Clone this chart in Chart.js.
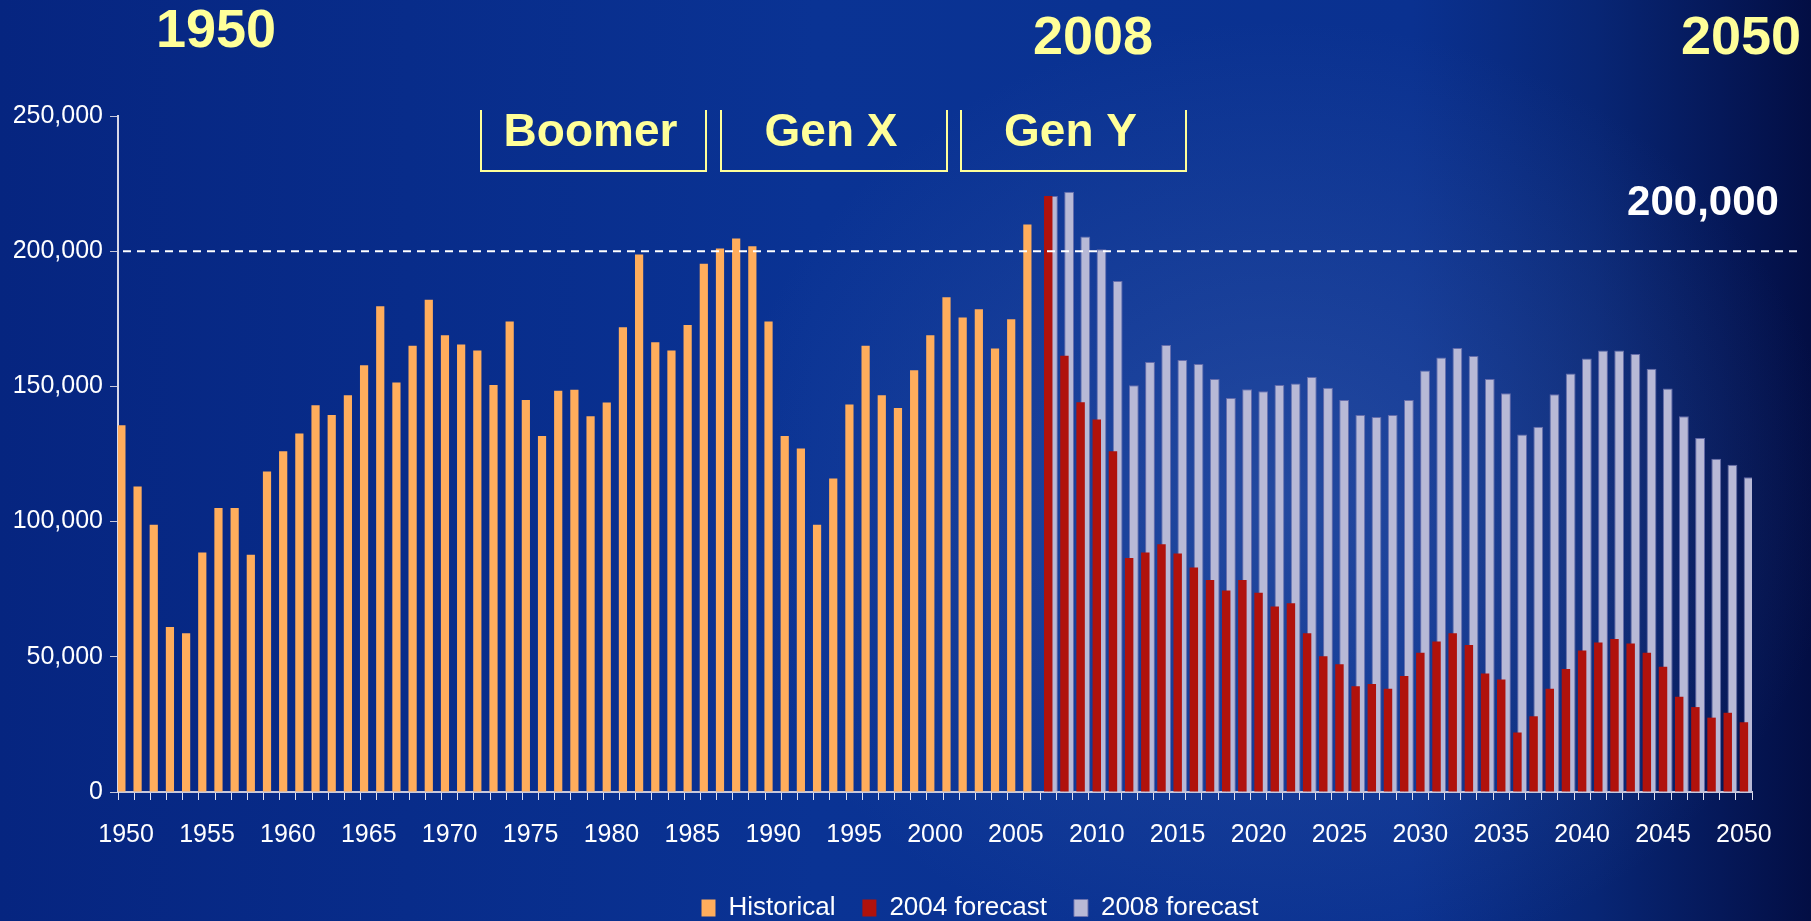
<!DOCTYPE html>
<html>
<head>
<meta charset="utf-8">
<script src="https://cdn.jsdelivr.net/npm/chart.js@4.4.1/dist/chart.umd.min.js"></script>
<style>
  html, body { margin: 0; padding: 0; overflow: hidden; }
  body {
    width: 1811px; height: 921px;
    background:
      radial-gradient(ellipse 560px 480px at 1280px 500px, rgba(80,115,185,0.36), rgba(80,115,185,0) 100%),
      linear-gradient(90deg, #062580 0%, #0a3394 45%, #0a3190 78%, #082675 88%, #051859 95%, #030e44 100%);
  }
  #wrap { position: relative; width: 1811px; height: 921px; }
</style>
</head>
<body>
<div id="wrap"><canvas id="chart"></canvas></div>
<script>
// years 1950..2050
const years = [];
for (let y = 1950; y <= 2050; y++) years.push(String(y));

// 1950-2006
const historical = [
  135600, 113000, 98800, 61000, 58700, 88600, 105000, 105000, 87700, 118500,
  126000, 132600, 143000, 139400, 146700, 157800, 179600, 151400, 165000, 182000,
  168900, 165500, 163300, 150500, 174000, 145000, 131700, 148400, 148800, 139000,
  144000, 171900, 198800, 166300, 163300, 172700, 195400, 201000, 204700, 201800,
  174000, 131700, 127000, 98800, 115900, 143300, 165000, 146700, 142000, 156000,
  168900, 183000, 175500, 178500, 164000, 174800, 209900
];

// 2007-2050
const forecast2004 = [
  220400, 161300, 144100, 137800, 126000, 86500, 88600, 91600, 88200, 83000,
  78400, 74500, 78400, 73700, 68600, 69800, 58700, 50200, 47200, 39100,
  39900, 38200, 42900, 51500, 55700, 58700, 54400, 43800, 41600, 22000,
  28000, 38200, 45500, 52300, 55300, 56600, 54900, 51500, 46300, 35200,
  31400, 27500, 29300, 25800
];
const forecast2008 = [
  220400, 222000, 205400, 200700, 189000, 150400, 159000, 165300, 159800, 158300,
  152700, 145700, 148900, 148200, 150500, 151100, 153500, 149500, 145000, 139400,
  138700, 139400, 145000, 155900, 160700, 164200, 161200, 152700, 147500, 132200,
  135100, 147100, 154800, 160300, 163300, 163300, 162000, 156500, 149200, 139000,
  130900, 123200, 121000, 116400
];

const yTicks = [0, 50000, 100000, 150000, 200000, 250000];
const refLine = 200000;

const nFuture = forecast2004.length;
const nPast = historical.length;
const padPast = new Array(nFuture).fill(null);
const padFuture = new Array(nPast).fill(null);

const FONT = "'Liberation Sans', Arial, Helvetica, sans-serif";
Chart.defaults.font.family = FONT;
Chart.defaults.color = "#ffffff";

const fmt = v => v.toLocaleString("en-US");

const overlay = {
  id: "overlay",
  afterLayout(chart) {
    // legend sits a bit right of centre in the original
    chart.legend.left += 104;
    chart.legend.right += 104;
  },
  afterDatasetsDraw(chart) {
    const ctx = chart.ctx;
    const y = chart.scales.y.getPixelForValue(refLine);
    ctx.save();
    ctx.strokeStyle = "#ffffff";
    ctx.lineWidth = 2;
    ctx.setLineDash([8, 6]);
    ctx.beginPath();
    ctx.moveTo(chart.chartArea.left + 5, y);
    ctx.lineTo(chart.width - 12, y);
    ctx.stroke();
    ctx.setLineDash([]);

    ctx.fillStyle = "#ffffff";
    ctx.font = "bold 42px " + FONT;
    ctx.textAlign = "center";
    ctx.textBaseline = "middle";
    ctx.fillText(fmt(refLine), 1703, 203);

    // era markers
    ctx.fillStyle = "#ffff99";
    ctx.font = "bold 54px " + FONT;
    ctx.fillText("1950", 216, 32);
    ctx.fillText("2008", 1093, 39);
    ctx.fillText("2050", 1741, 39);

    // generation boxes (open at the top)
    const gens = [["Boomer", 481, 706], ["Gen X", 721, 947], ["Gen Y", 961, 1186]];
    ctx.strokeStyle = "#ffff99";
    ctx.lineWidth = 2;
    ctx.font = "bold 46px " + FONT;
    gens.forEach(([name, x0, x1]) => {
      ctx.beginPath();
      ctx.moveTo(x0, 110);
      ctx.lineTo(x0, 171);
      ctx.lineTo(x1, 171);
      ctx.lineTo(x1, 110);
      ctx.stroke();
      ctx.fillText(name, (x0 + x1) / 2 - 3, 133);
    });
    ctx.restore();
  }
};

new Chart(document.getElementById("chart"), {
  type: "bar",
  data: {
    labels: years,
    datasets: [
      {
        label: "Historical",
        data: historical.concat(padPast),
        backgroundColor: "#ffad5c",
        barPercentage: 1.75,
        categoryPercentage: 0.87
      },
      {
        label: "2004 forecast",
        data: padFuture.concat(forecast2004),
        backgroundColor: "#b0120c",
        barPercentage: 1.8,
        categoryPercentage: 0.87
      },
      {
        label: "2008 forecast",
        data: padFuture.concat(forecast2008),
        backgroundColor: "#b8b9d6",
        borderColor: "rgba(110,115,175,0.9)",
        borderWidth: 1,
        barPercentage: 2.1,
        categoryPercentage: 0.87
      }
    ]
  },
  options: {
    responsive: true,
    maintainAspectRatio: false,
    animation: false,
    devicePixelRatio: 1,
    layout: { padding: { top: 116, right: 59, left: 0, bottom: -10 } },
    plugins: {
      tooltip: { enabled: false },
      legend: {
        position: "bottom",
        labels: {
          color: "#ffffff",
          font: { size: 26 },
          boxWidth: 14,
          boxHeight: 17,
          padding: 27
        }
      }
    },
    scales: {
      x: {
        afterFit: s => { s.height = 76; },
        grid: {
          offset: true,
          drawOnChartArea: false,
          drawTicks: true,
          tickLength: 8,
          tickColor: "#e0e0f0",
          lineWidth: 1
        },
        border: { display: true, color: "#c8c8dc", width: 2 },
        ticks: {
          autoSkip: false,
          maxRotation: 0,
          minRotation: 0,
          padding: 20,
          color: "#ffffff",
          font: { size: 25 },
          callback: (v, i) => (Number(years[i]) % 5 === 0 ? years[i] : "")
        }
      },
      y: {
        min: yTicks[0],
        max: yTicks[yTicks.length - 1],
        afterFit: s => { s.width = 118; },
        afterBuildTicks: s => { s.ticks = yTicks.map(v => ({ value: v })); },
        grid: {
          drawOnChartArea: false,
          drawTicks: true,
          tickLength: 8,
          tickColor: "#c8c8dc"
        },
        border: { display: true, color: "#d8d8e8", width: 2 },
        ticks: {
          padding: 7,
          color: "#ffffff",
          font: { size: 25 },
          callback: v => fmt(v)
        }
      }
    }
  },
  plugins: [overlay]
});
</script>
</body>
</html>
